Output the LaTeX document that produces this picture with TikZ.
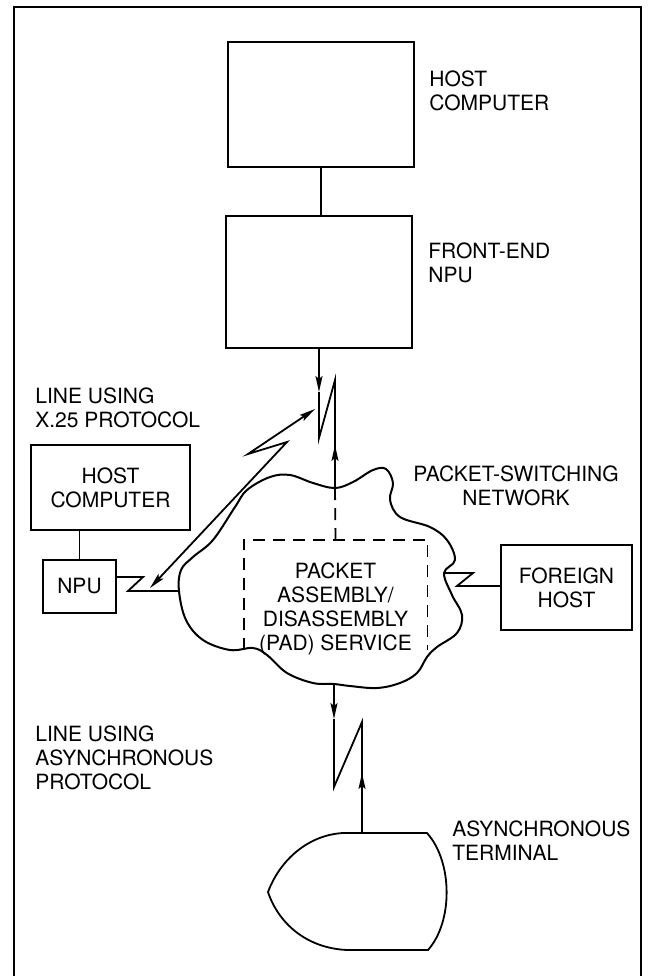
\documentclass[tikz,border=0pt]{standalone}
\usepackage{fontspec}
\setmainfont{TeX Gyre Heros}
\usetikzlibrary{arrows.meta}
\tikzset{
    >={Stealth[length=8pt,width=3.5pt,inset=1.5pt]},
    wire/.style={line width=0.9pt},
    box/.style={
        draw,
        line width=0.9pt,
        rectangle,
        inner sep=0pt,
        align=center,
    },
    note/.style={
        inner sep=0pt,
        align=left,
        anchor=north west,
    },
    padbox/.style={
        inner sep=0pt,
        minimum width=91.5pt,
        minimum height=55pt,
    },
    paddash/.style={
        line width=0.9pt,
        dash pattern=on 6pt off 4pt,
    },
}

\begin{document}
\begin{tikzpicture}[x=0.5pt, y=-0.5pt, font=\fontsize{10.5}{12}\selectfont]
            \useasboundingbox (0,0) rectangle (651,976);
            \draw[line width=0.6pt] (14,976) -- (14,7) -- (641,7) -- (641,976);

            \node[box, minimum width=93pt, minimum height=62.5pt] (host) at (321,104.5) {};
            \node[box, minimum width=93pt, minimum height=66pt] (fep) at (319,282) {};
            \node[box, minimum width=79.5pt, minimum height=42.5pt] (lhost) at (110.5,487.5) {HOST\\COMPUTER};
            \node[box, minimum width=36.5pt, minimum height=26.5pt] (npu) at (79.5,586.5) {NPU};
            \node[box, minimum width=65.5pt, minimum height=42.5pt] (fhost) at (566.5,587.5) {FOREIGN\\HOST};
            \node[padbox] (pad) at (335.5,595) {};

            \node[note] at (429,70) {HOST\\COMPUTER};
            \node[note] at (428,242) {FRONT-END\\NPU};
            \node[note] at (35,387) {LINE USING\\X.25 PROTOCOL};
            \node[note, anchor=north, align=center] at (516,465) {PACKET-SWITCHING\\NETWORK};
            \node[note] at (35,725) {LINE USING\\ASYNCHRONOUS\\PROTOCOL};
            \node[note] at (452,820) {ASYNCHRONOUS\\TERMINAL};
            \node[note, anchor=north, align=center] at (335.5,562) {PACKET\\ASSEMBLY/\\DISASSEMBLY\\(PAD) SERVICE};

            \draw[line width=1pt] plot[smooth cycle, tension=0.6] coordinates {
                (179,591) (181,570) (193,557) (213,540) (235,507) (247,490)
                (270,477) (290,475) (313,483) (335,488) (353,482) (373,470)
                (386,469) (393,483) (390,500) (400,517) (430,527) (447,540)
                (455,560) (444,573) (452,595) (462,615) (457,633) (437,647)
                (427,657) (417,673) (400,683) (377,688) (350,686) (334,684)
                (313,683) (287,673) (267,655) (253,648) (230,650) (203,640)
                (186,620)};
            \coordinate (cltop) at (335,488);
            \coordinate (clbot) at (334,684);
            \coordinate (clleft) at (179,591);
            \coordinate (clright) at (444,573);

            \draw[paddash] (pad.south west) -- (pad.north west) -- (pad.north east) -- (pad.south east);

            \draw[wire] (host.south) -- (host.south |- fep.north);
            \draw[wire] (npu.north) -- (npu.north |- lhost.south);

            \coordinate (fa) at (319,392);
            \coordinate (z1) at (319,438);
            \coordinate (z2) at (335,380);
            \coordinate (zb) at (335,445);
            \draw[wire,->] (fep.south) -- (fa);
            \draw[wire] (fa) -- (z1) -- (z2) -- (cltop);
            \draw[wire,->] (cltop) -- (zb);
            \draw[paddash] (cltop) -- (pad.north);

            \coordinate (xa) at (150,588);
            \coordinate (xb) at (287,442);
            \coordinate (xc) at (248,454);
            \coordinate (xd) at (315,409);
            \draw[wire,<->] (xa) -- (xb) -- (xc) -- (xd);

            \coordinate (n1) at (143,577);
            \coordinate (n2) at (128,591);
            \draw[wire] (npu.east |- n1) -- (n1) -- (n2) -- (clleft);

            \coordinate (f1) at (473,573);
            \coordinate (f2) at (457,586);
            \draw[wire] (clright) -- (f1) -- (f2) -- (f2 -| fhost.west);

            \coordinate (ba) at (334,719);
            \coordinate (b1) at (334,787);
            \coordinate (b2) at (362,722);
            \coordinate (bb) at (362,773);
            \coordinate (term) at (362,833);
            \draw[wire,->] (clbot) -- (ba);
            \draw[wire] (ba) -- (b1) -- (b2) -- (term);
            \draw[wire,->] (term) -- (bb);

            \draw[wire] (343,833) -- (427,833) .. controls (453,862) and (453,922) .. (428,950)
                -- (347,950) .. controls (305,948) and (278,922) .. (268,892)
                .. controls (280,860) and (308,835) .. (343,833) -- cycle;
        \end{tikzpicture}
\end{document}
